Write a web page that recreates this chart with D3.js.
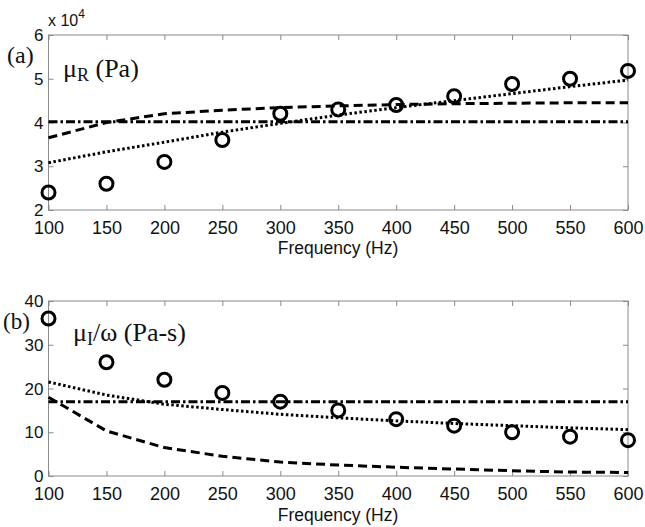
<!DOCTYPE html>
<html><head><meta charset="utf-8">
<script src="https://cdn.jsdelivr.net/npm/d3@7"></script>
<style>body{margin:0;background:#fff}svg{display:block}</style>
</head><body>
<svg id="c" width="645" height="527"></svg>
<script>
const freq = [100,150,200,250,300,350,400,450,500,550,600];
// panel (a) values in units of 1e4 Pa
const aMeasured = [2.4,2.6,3.1,3.6,4.2,4.3,4.4,4.6,4.88,5.0,5.18];
const aDotted   = [3.08,3.33,3.55,3.78,3.98,4.17,4.34,4.5,4.66,4.82,4.97];
const aDashed   = [3.65,4.0,4.2,4.28,4.34,4.38,4.41,4.43,4.44,4.45,4.45];
const aDashDot  = [4.02,4.02,4.02,4.02,4.02,4.02,4.02,4.02,4.02,4.02,4.02];
// panel (b) values in Pa-s
const bMeasured = [36,26,22,19,17,15,13,11.5,10,9,8.2];
const bDotted   = [21.5,18.5,16.4,15.2,14.1,13.3,12.6,12,11.5,11,10.6];
const bDashed   = [18,10.3,6.5,4.5,3.2,2.5,2.0,1.6,1.2,0.9,0.8];
const bDashDot  = [17,17,17,17,17,17,17,17,17,17,17];
const xTicks = [100,150,200,250,300,350,400,450,500,550,600];
const aYTicks = [2,3,4,5,6];
const bYTicks = [0,10,20,30,40];

const svg = d3.select("#c");
const x = d3.scaleLinear().domain([100,600]).range([48.5,628]);
const sans = "Liberation Sans, Arial, sans-serif";
const serif = "Liberation Serif, Times New Roman, serif";

function panel(top, bottom, ydom, yticks, series, meas) {
  const y = d3.scaleLinear().domain(ydom).range([bottom, top]);
  const g = svg.append("g");
  const axCol = "#8a8a8a";
  g.append("rect").attr("x",x(100)).attr("y",top).attr("width",x(600)-x(100)).attr("height",bottom-top)
    .attr("fill","none").attr("stroke",axCol).attr("stroke-width",1);
  const fmt = d3.format("d");
  const xa = g.append("g").attr("transform",`translate(0,${bottom})`)
    .call(d3.axisBottom(x).tickValues(xTicks).tickFormat(fmt).tickSizeInner(-5).tickSizeOuter(0).tickPadding(10));
  const xt = g.append("g").attr("transform",`translate(0,${top})`)
    .call(d3.axisTop(x).tickValues(xTicks).tickSizeInner(-5).tickSizeOuter(0).tickFormat(""));
  const ya = g.append("g").attr("transform",`translate(${x(100)},0)`)
    .call(d3.axisLeft(y).tickValues(yticks).tickFormat(fmt).tickSizeInner(-5).tickSizeOuter(0).tickPadding(5));
  const yr = g.append("g").attr("transform",`translate(${x(600)},0)`)
    .call(d3.axisRight(y).tickValues(yticks).tickSizeInner(-5).tickSizeOuter(0).tickFormat(""));
  [xa,xt,ya,yr].forEach(a=>{a.select(".domain").remove(); a.selectAll("line").attr("stroke",axCol);});
  xa.attr("font-size",18).attr("font-family",sans);
  ya.attr("font-size",17).attr("font-family",sans);
  [xa,ya].forEach(a=>a.selectAll("text").attr("fill","#111"));
  ya.selectAll("text").attr("dy","0.33em");
  xa.selectAll("text").attr("dy","0.75em");

  const line = d3.line().x((d,i)=>x(freq[i])).y(d=>y(d));
  series.forEach(s=>{
    g.append("path").datum(s.v).attr("d",line).attr("fill","none").attr("stroke","#000")
      .attr("stroke-width",3).attr("stroke-dasharray",s.dash);
  });
  g.selectAll("circle.m").data(meas).enter().append("circle")
    .attr("cx",(d,i)=>x(freq[i])).attr("cy",d=>y(d)).attr("r",6.5)
    .attr("fill","none").attr("stroke","#000").attr("stroke-width",3);
  return {g,y};
}

panel(35, 210, [2,6], aYTicks, [
  {v:aDashed, dash:"9,5"},
  {v:aDotted, dash:"2.5,2.5"},
  {v:aDashDot, dash:"9,3,2.5,3"}
], aMeasured);
panel(301, 476, [0,40], bYTicks, [
  {v:bDashed, dash:"9,5"},
  {v:bDotted, dash:"2.5,2.5"},
  {v:bDashDot, dash:"9,3,2.5,3"}
], bMeasured);

svg.append("text").attr("x",338).attr("y",254).attr("text-anchor","middle")
  .attr("font-family",sans).attr("font-size",17.5).attr("fill","#111").text("Frequency (Hz)");
svg.append("text").attr("x",338).attr("y",521).attr("text-anchor","middle")
  .attr("font-family",sans).attr("font-size",17.5).attr("fill","#111").text("Frequency (Hz)");
const ex = svg.append("text").attr("x",48).attr("y",26).attr("font-family",sans).attr("font-size",16).attr("fill","#111");
ex.append("tspan").text("x 10");
ex.append("tspan").attr("dy","-8").attr("font-size",12).text("4");
svg.append("text").attr("x",7).attr("y",63).attr("font-family",serif).attr("font-size",24).attr("fill","#111").text("(a)");
svg.append("text").attr("x",3).attr("y",329).attr("font-family",serif).attr("font-size",23).attr("fill","#111").text("(b)");
const ta = svg.append("text").attr("x",63).attr("y",77).attr("font-family",serif).attr("font-size",26).attr("fill","#111");
ta.append("tspan").text("μ");
ta.append("tspan").attr("dy","4").attr("font-size",18).text("R");
ta.append("tspan").attr("dy","-4").text(" (Pa)");
const tb = svg.append("text").attr("x",73).attr("y",341).attr("font-family",serif).attr("font-size",26).attr("fill","#111");
tb.append("tspan").text("μ");
tb.append("tspan").attr("dy","4").attr("font-size",18).text("I");
tb.append("tspan").attr("dy","-4").text("/ω (Pa-s)");
</script>
</body></html>
